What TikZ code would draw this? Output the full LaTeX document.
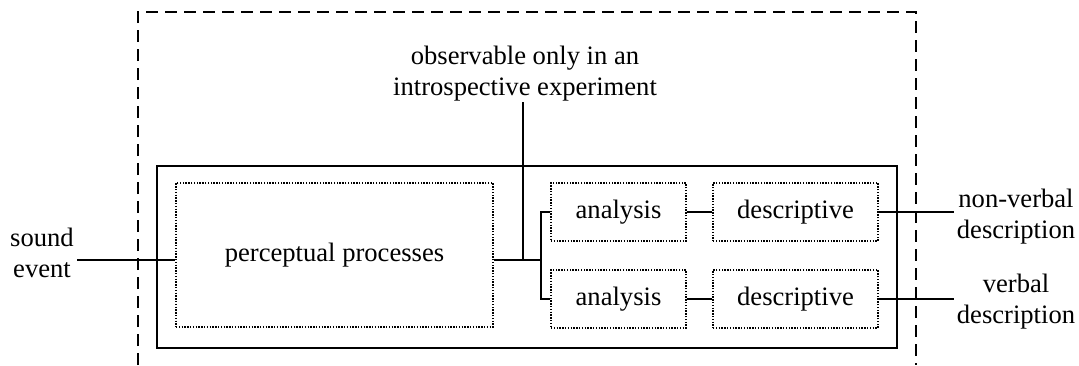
\documentclass[tikz,border=0pt]{standalone}
\usepackage{fontspec}
\setmainfont{Liberation Serif}
\usepackage{tikz}

\begin{document}
\begin{tikzpicture}[x=0.5pt, y=-0.5pt,
                    every node/.style = {font=\fontsize{13.3}{15.5}\selectfont},
                    stage/.style = {draw, dash pattern=on 0.7pt off 0.7pt, line width=0.7pt, inner sep=0pt},
                    outside/.style = {align=center, inner sep=1.5pt},
                    wire/.style = {line width=0.9pt}]
                        \useasboundingbox (0,0) rectangle (1079,365);
                        
                        \draw[dash pattern=on 6pt off 3.5pt, line width=0.9pt] (138,365) -- (138,12) -- (916,12) -- (916,365);
                        \draw[wire] (157,166) rectangle (897,348);
                        
                        \node (P) at (334.5,255) [stage, minimum width=158.5pt, minimum height=72pt] {perceptual processes};
                        \node (A1) at (618.5,212) [stage, minimum width=67.5pt, minimum height=29pt] {analysis};
                        \node (A2) at (618.5,299) [stage, minimum width=67.5pt, minimum height=29pt] {analysis};
                        \node (D1) at (795.5,212) [stage, minimum width=82.5pt, minimum height=29pt] {descriptive};
                        \node (D2) at (795.5,299) [stage, minimum width=82.5pt, minimum height=29pt] {descriptive};
                        
                        \node (S) at (42,253) [outside] {sound\\event};
                        \node (O) at (525,74) [outside, inner sep=0pt] {observable only in an\\introspective experiment};
                        \node (N) at (1016,217) [outside] {non-verbal\\description};
                        \node (V) at (1016,302) [outside] {verbal\\description};
                        
                        \coordinate (J) at (523,260);
                        \coordinate (B) at (541,260);
                        
                        \draw[wire] (S.east |- J) -- (P.west |- J);
                        \draw[wire] (P.east |- J) -- (B);
                        \draw[wire] (J) -- (J |- O.south);
                        \draw[wire] (A1.west) -| (B) |- (A2.west);
                        
                        \draw[wire] (A1.east) -- (D1.west);
                        \draw[wire] (A2.east) -- (D2.west);
                        
                        \draw[wire] (D1.east) -- (D1.east -| N.west);
                        \draw[wire] (D2.east) -- (D2.east -| V.west);
                    \end{tikzpicture}
\end{document}
